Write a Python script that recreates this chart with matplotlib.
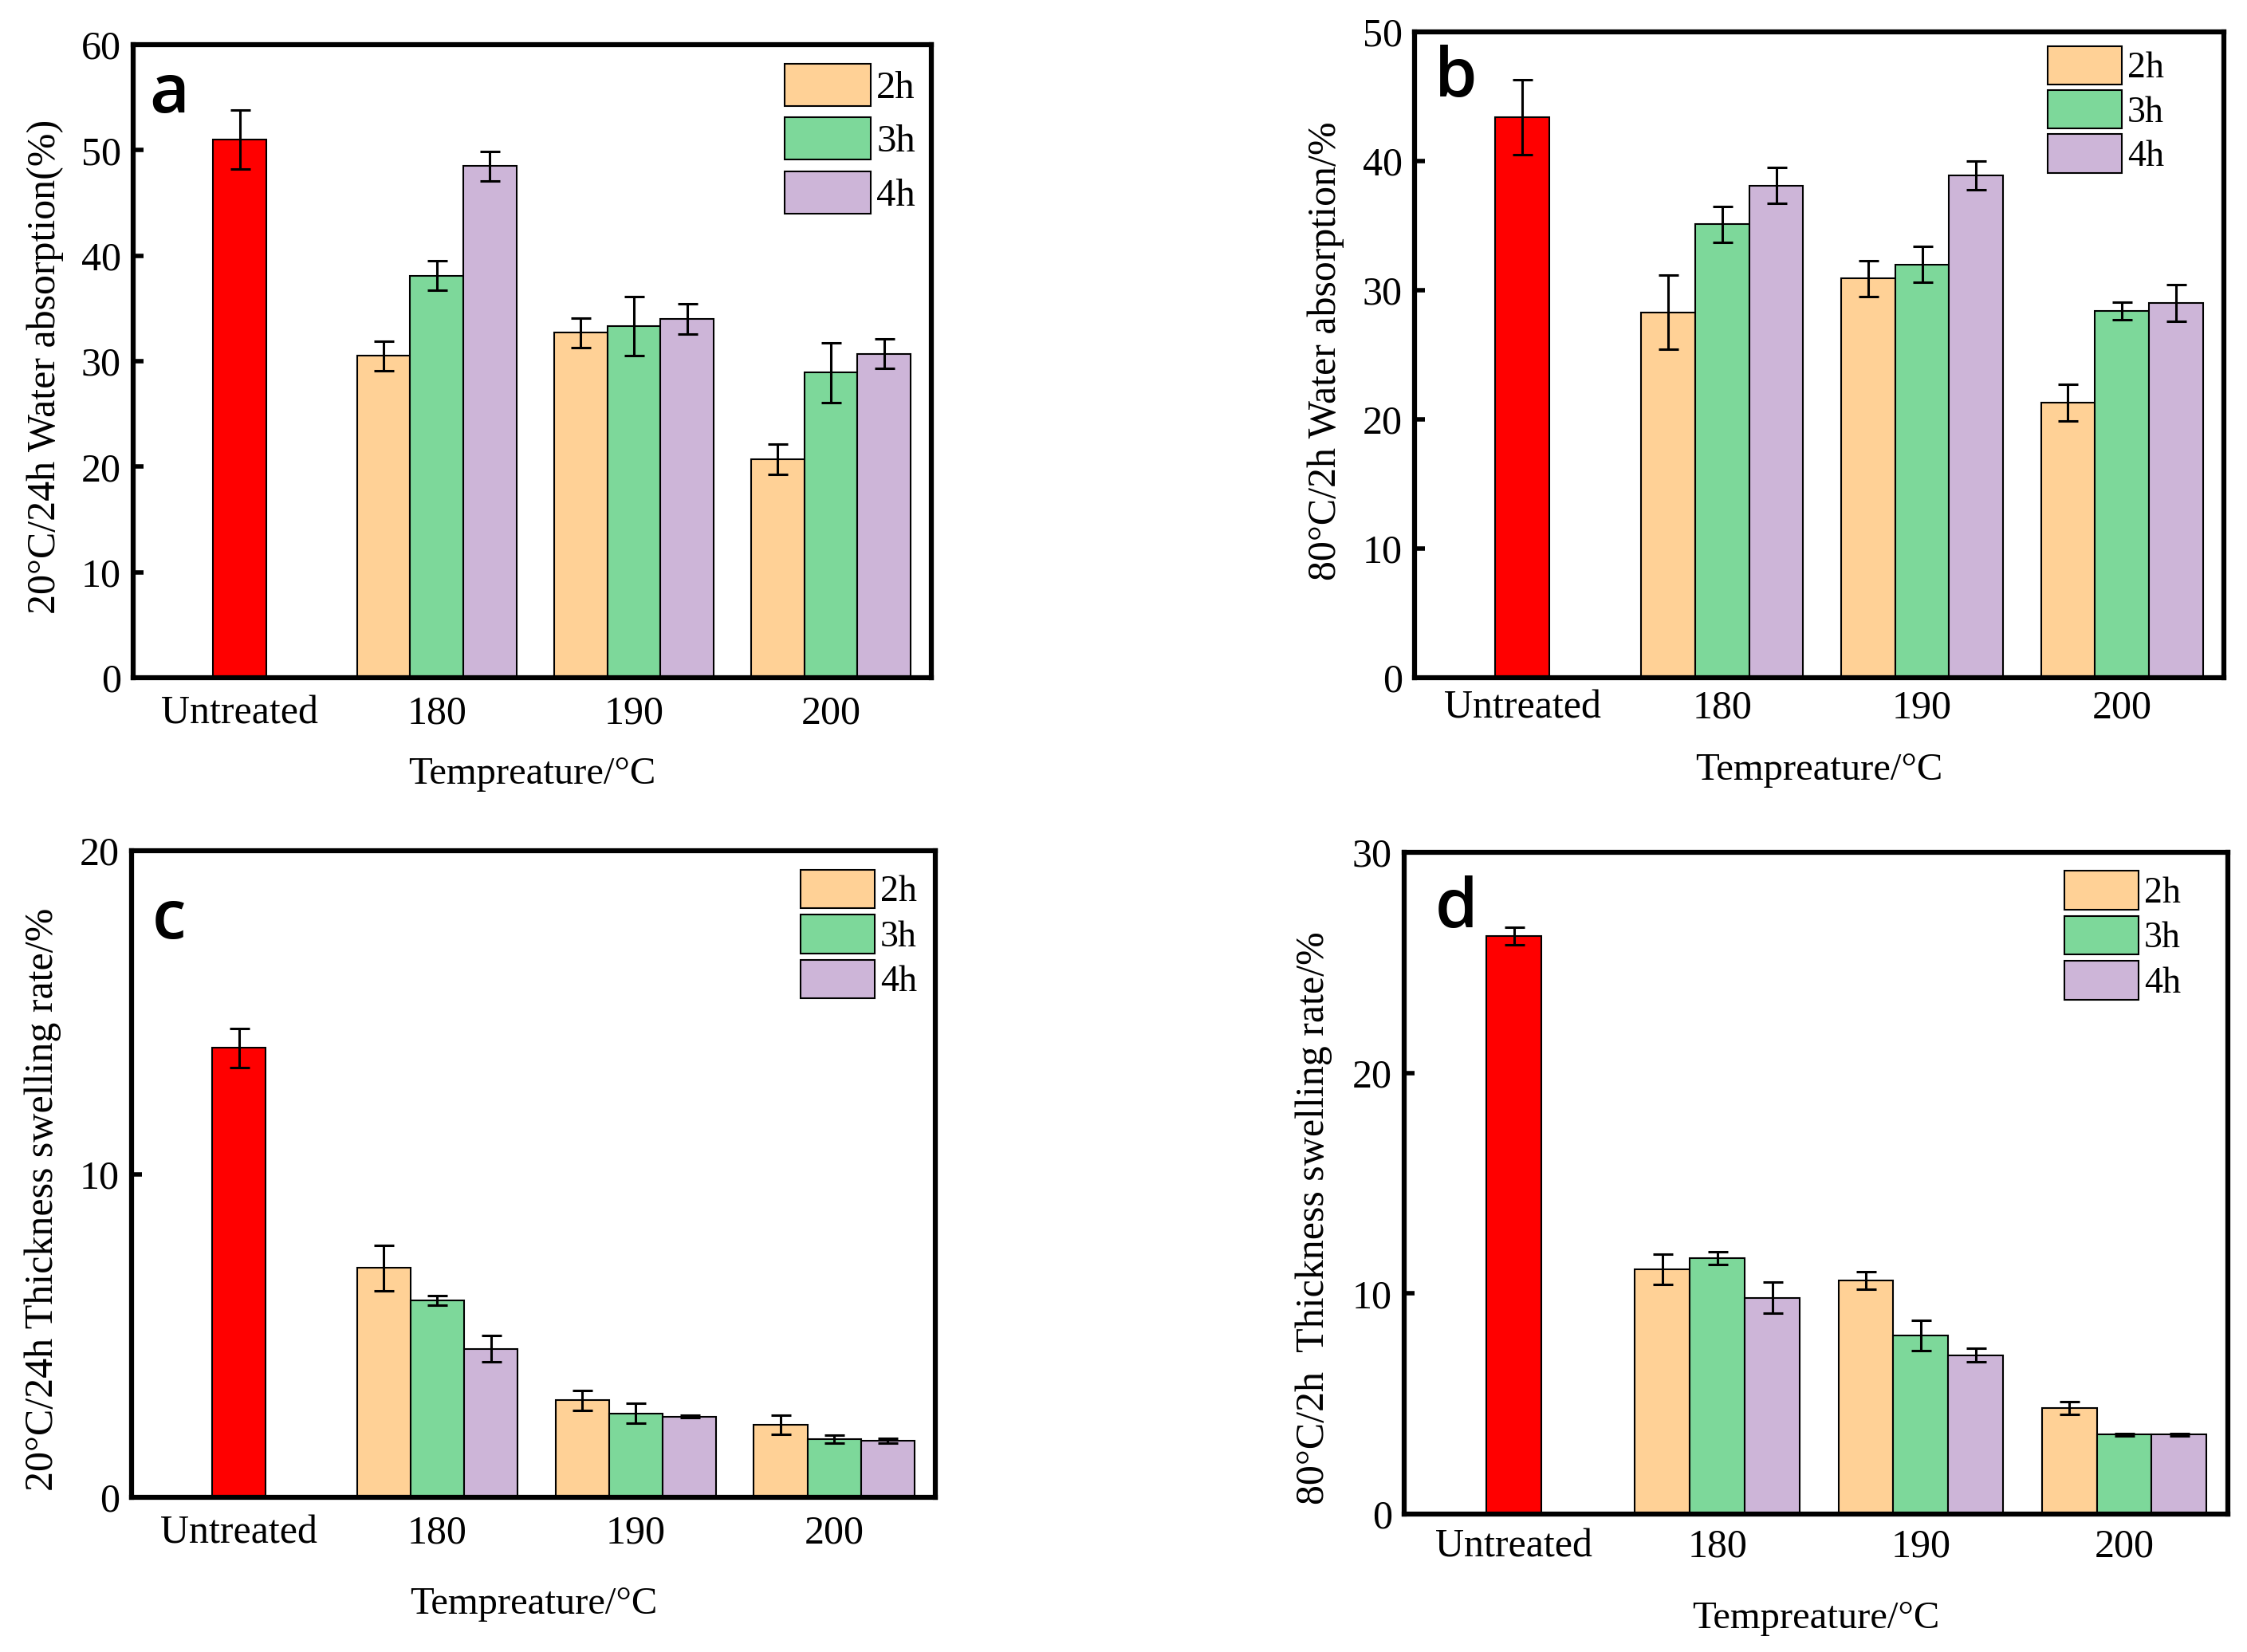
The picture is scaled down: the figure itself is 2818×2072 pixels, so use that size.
import numpy as np
import matplotlib
matplotlib.use("Agg")
import matplotlib.pyplot as plt
from matplotlib.patches import Patch

plt.rcParams['font.family'] = ['Liberation Serif', 'DejaVu Serif']

groups = ['Untreated', '180', '190', '200']
series = ['2h', '3h', '4h']
colors = ['#FFD196', '#7DD89A', '#CDB5D8']

# panel a: 20°C/24h water absorption
a_untreated, a_untreated_err = 51.0, 2.8
a_vals = [[30.5, 32.7, 20.7], [38.1, 33.3, 28.9], [48.5, 34.0, 30.7]]
a_errs = [[1.4, 1.4, 1.4], [1.4, 2.8, 2.8], [1.4, 1.4, 1.4]]

# panel b: 80°C/2h water absorption
b_untreated, b_untreated_err = 43.4, 2.9
b_vals = [[28.3, 30.9, 21.3], [35.1, 32.0, 28.4], [38.1, 38.9, 29.0]]
b_errs = [[2.9, 1.4, 1.4], [1.4, 1.4, 0.7], [1.4, 1.1, 1.4]]

# panel c: 20°C/24h thickness swelling
c_untreated, c_untreated_err = 13.9, 0.6
c_vals = [[7.1, 3.0, 2.25], [6.1, 2.6, 1.8], [4.6, 2.5, 1.75]]
c_errs = [[0.7, 0.3, 0.3], [0.15, 0.3, 0.12], [0.4, 0.04, 0.08]]

# panel d: 80°C/2h thickness swelling
d_untreated, d_untreated_err = 26.2, 0.4
d_vals = [[11.1, 10.6, 4.8], [11.6, 8.1, 3.6], [9.8, 7.2, 3.6]]
d_errs = [[0.7, 0.4, 0.3], [0.3, 0.7, 0.05], [0.7, 0.3, 0.05]]

width = 0.27


def panel(rect, letter, letter_xy, untreated, untreated_err, vals, errs, ymax, yticks,
          ylabel, ylabel_y, tickpad, xlabelpad, leg):
    ax = fig.add_axes(rect)
    ekw = dict(elinewidth=2.2, capsize=9, capthick=2.2, ecolor='black')
    ax.bar(0, untreated, width, color='#FF0000', edgecolor='black', linewidth=1.5,
           yerr=untreated_err, error_kw=ekw, zorder=2)
    x = np.arange(1, 4)
    for i, s in enumerate(series):
        ax.bar(x + (i - 1) * width, vals[i], width, color=colors[i], edgecolor='black',
               linewidth=1.5, yerr=errs[i], error_kw=ekw, zorder=2)
    ax.set_xlim(-0.54, 3.51)
    ax.set_ylim(0, ymax)
    ax.set_yticks(yticks)
    ax.set_xticks(range(4))
    ax.set_xticklabels(groups)
    ax.tick_params(axis='x', length=0, labelsize=36, pad=tickpad)
    ax.tick_params(axis='y', direction='in', length=9, width=4, labelsize=36, pad=11)
    for sp in ax.spines.values():
        sp.set_linewidth(4.5)
    ax.set_xlabel('Tempreature/°C', fontsize=35, labelpad=xlabelpad)
    ax.set_ylabel(ylabel, fontsize=36)
    ax.yaxis.set_label_coords(-0.087, ylabel_y)
    ax.text(letter_xy[0], letter_xy[1], letter, transform=ax.transAxes, fontsize=62,
            fontfamily='Open Sans', fontweight='semibold', va='top', ha='left')
    handles = [Patch(facecolor=colors[i], edgecolor='black', linewidth=1.5, label=s)
               for i, s in enumerate(series)]
    anchor, fs, hl, hh, ls = leg
    ax.legend(handles=handles, loc='upper right', bbox_to_anchor=anchor, frameon=False,
              fontsize=fs, handlelength=hl, handleheight=hh, handletextpad=0.15,
              labelspacing=ls, borderaxespad=0, borderpad=0)
    return ax


fig = plt.figure(figsize=(28.18, 20.72), dpi=100)

panel([0.0593, 0.5898, 0.3552, 0.3832], 'a', (0.02, 0.975), a_untreated, a_untreated_err,
      a_vals, a_errs, 60, range(0, 61, 10), '20°C/24h Water absorption(%)', 0.491,
      16, 22, ((0.98, 0.97), 35, 2.22, 1.3, 0.3))
panel([0.6295, 0.5898, 0.3602, 0.3909], 'b', (0.025, 0.98), b_untreated, b_untreated_err,
      b_vals, b_errs, 50, range(0, 51, 10), '80°C/2h Water absorption/%', 0.506,
      11, 23, ((0.926, 0.978), 33, 2.03, 1.25, 0.12))
panel([0.0586, 0.0936, 0.3577, 0.3914], 'c', (0.025, 0.945), c_untreated, c_untreated_err,
      c_vals, c_errs, 20, [0, 10, 20], '20°C/24h Thickness swelling rate/%', 0.461,
      16, 31, ((0.977, 0.971), 33, 2.03, 1.25, 0.15))
panel([0.6249, 0.0835, 0.3666, 0.4006], 'd', (0.038, 0.965), d_untreated, d_untreated_err,
      d_vals, d_errs, 30, [0, 10, 20, 30], '80°C/2h  Thickness swelling rate/%', 0.448,
      13, 32, ((0.943, 0.972), 33, 2.03, 1.25, 0.15))

fig.savefig('out.png', dpi=100)
